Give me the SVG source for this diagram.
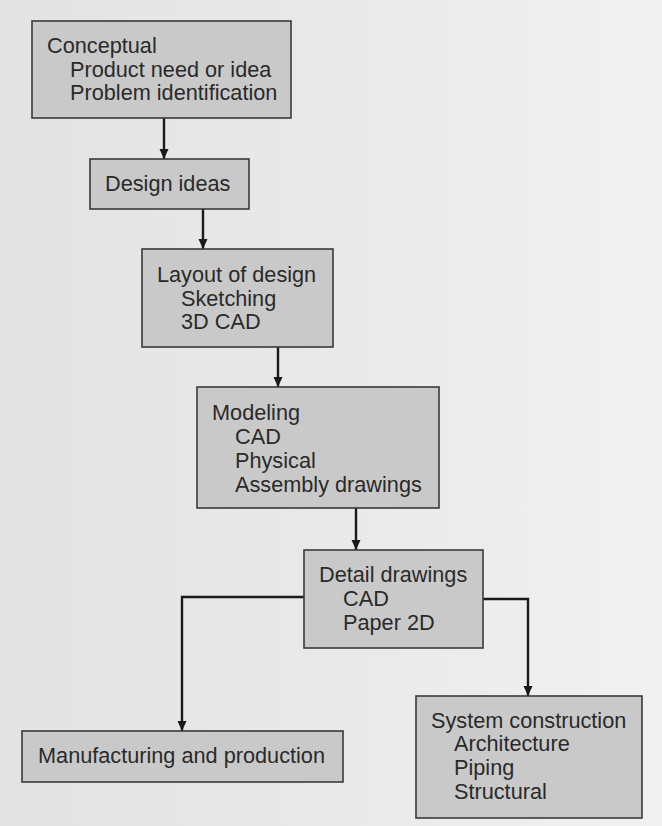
<svg xmlns="http://www.w3.org/2000/svg" width="662" height="826" viewBox="0 0 662 826">
  <defs>
    <linearGradient id="bg" x1="0" y1="0" x2="1" y2="0">
      <stop offset="0" stop-color="#e3e3e3"/>
      <stop offset="0.5" stop-color="#e9e9e9"/>
      <stop offset="1" stop-color="#f1f1f1"/>
    </linearGradient>
    <marker id="arr" viewBox="0 0 10 10" refX="10" refY="5" markerWidth="10" markerHeight="10" markerUnits="userSpaceOnUse" orient="auto">
      <path d="M0,0.5 L10,5 L0,9.5 z" fill="#1a1a1a"/>
    </marker>
    <style>
      .box { fill: #c9c9c9; stroke: #3a3a3a; stroke-width: 1.6; }
      .t { font-family: "Liberation Sans", Arial, Helvetica, sans-serif; font-size: 21.7px; fill: #2a2a2a; }
      .c { fill: none; stroke: #1a1a1a; stroke-width: 2.4; marker-end: url(#arr); }
    </style>
  </defs>
  <rect x="0" y="0" width="662" height="826" fill="url(#bg)"/>

  <g id="connectors">
    <path class="c" d="M164,118 V159"/>
    <path class="c" d="M203,209 V249"/>
    <path class="c" d="M278,347 V387"/>
    <path class="c" d="M356,508 V550"/>
    <path class="c" d="M304,597 H182 V731"/>
    <path class="c" d="M483,599 H528 V696"/>
  </g>

  <g id="conceptual">
    <rect class="box" x="32" y="21" width="259" height="97"/>
    <text class="t" x="47" y="53">Conceptual</text>
    <text class="t" x="70" y="77">Product need or idea</text>
    <text class="t" x="70" y="100">Problem identification</text>
  </g>

  <g id="design-ideas">
    <rect class="box" x="90" y="159" width="159" height="50"/>
    <text class="t" x="105" y="191">Design ideas</text>
  </g>

  <g id="layout">
    <rect class="box" x="142" y="249" width="191" height="98"/>
    <text class="t" x="157" y="282">Layout of design</text>
    <text class="t" x="181" y="306">Sketching</text>
    <text class="t" x="181" y="329">3D CAD</text>
  </g>

  <g id="modeling">
    <rect class="box" x="197" y="387" width="242" height="121"/>
    <text class="t" x="212" y="420">Modeling</text>
    <text class="t" x="235" y="444">CAD</text>
    <text class="t" x="235" y="468">Physical</text>
    <text class="t" x="235" y="492">Assembly drawings</text>
  </g>

  <g id="detail">
    <rect class="box" x="304" y="550" width="179" height="98"/>
    <text class="t" x="319" y="582">Detail drawings</text>
    <text class="t" x="343" y="606">CAD</text>
    <text class="t" x="343" y="630">Paper 2D</text>
  </g>

  <g id="manufacturing">
    <rect class="box" x="22" y="731" width="321" height="51"/>
    <text class="t" x="38" y="763">Manufacturing and production</text>
  </g>

  <g id="system">
    <rect class="box" x="416" y="696" width="226" height="122"/>
    <text class="t" x="431" y="728">System construction</text>
    <text class="t" x="454" y="751">Architecture</text>
    <text class="t" x="454" y="775">Piping</text>
    <text class="t" x="454" y="799">Structural</text>
  </g>
</svg>
